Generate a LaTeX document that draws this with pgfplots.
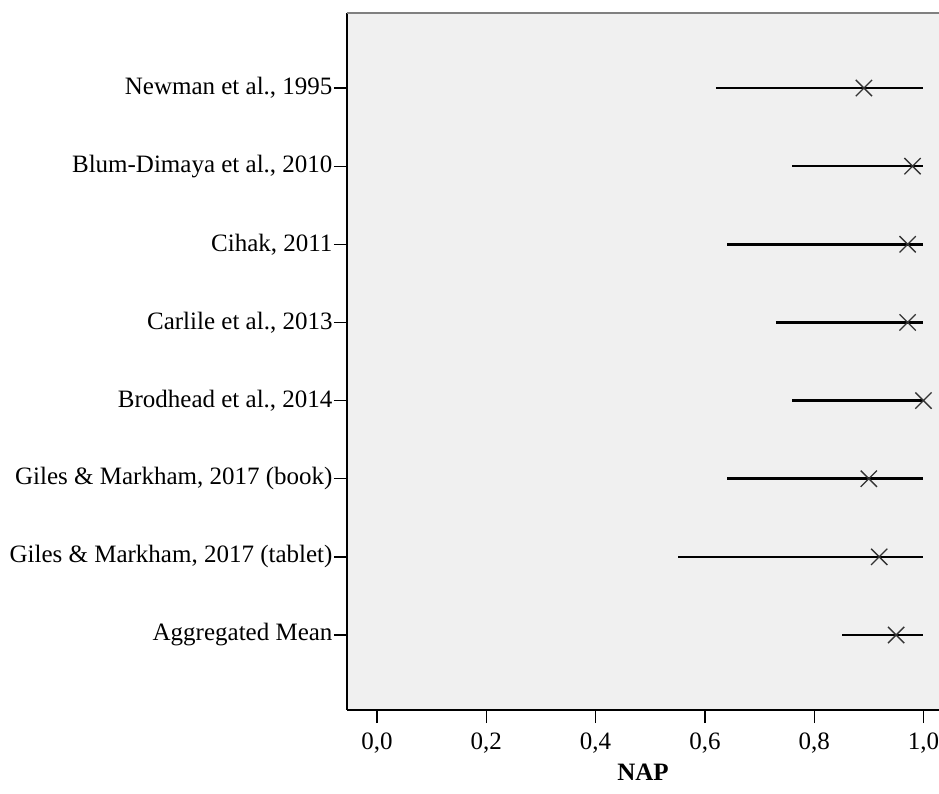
\documentclass[border=0pt]{standalone}
\usepackage{fontspec}
\setmainfont{Liberation Serif}
\usepackage{pgfplots}
\pgfplotsset{compat=1.18}
\definecolor{panel}{RGB}{240,240,240}
\definecolor{frame}{RGB}{128,128,128}
\begin{document}
\begin{tikzpicture}
  \begin{axis}[
      scale only axis,
      width=592pt,
      height=697pt,
      xmin=-0.0549, xmax=1.0284,
      ymin=0.04, ymax=8.96,
      y dir=reverse,
      axis x line*=bottom,
      axis y line*=left,
      axis line style={black, line width=1.3pt, -},
      axis background/.style={fill=panel},
      xtick={0,0.2,0.4,0.6,0.8,1.0},
      ytick={1,...,8},
      yticklabels={{Newman et al., 1995},
        {Blum-Dimaya et al., 2010},
        {Cihak, 2011},
        {Carlile et al., 2013},
        {Brodhead et al., 2014},
        {Giles \& Markham, 2017 (book)},
        {Giles \& Markham, 2017 (tablet)},
        {Aggregated Mean}},
      tick align=outside,
      major tick length=13pt,
      tick style={black, line width=1.3pt},
      x tick label style={
        /pgf/number format/fixed,
        /pgf/number format/fixed zerofill,
        /pgf/number format/precision=1,
        /pgf/number format/use comma,
        /pgf/number format/assume math mode=true,
        yshift=-6pt},
      y tick label style={xshift=2pt},
      tick label style={font=\fontsize{25}{28}\selectfont},
      xlabel={\textbf{NAP}},
      xlabel style={font=\fontsize{25}{28}\selectfont, yshift=-4pt},
      unbounded coords=jump,
      clip=false,
    ]
    % ranges
    \addplot[black, line width=2.6pt, no marks] coordinates {
        (0.620,1) (1.0,1) (nan,nan)
        (0.760,2) (1.0,2) (nan,nan)
        (0.641,3) (1.0,3) (nan,nan)
        (0.730,4) (1.0,4) (nan,nan)
        (0.760,5) (1.0,5) (nan,nan)
        (0.641,6) (1.0,6) (nan,nan)
        (0.551,7) (1.0,7) (nan,nan)
        (0.851,8) (1.0,8)
      };
    % point estimates
    \addplot[only marks, mark=x, mark size=11.5pt, mark options={black!80, line width=1.3pt}] coordinates {
        (0.891,1)
        (0.980,2)
        (0.971,3)
        (0.971,4)
        (1.000,5)
        (0.900,6)
        (0.919,7)
        (0.950,8)
      };
    \draw[frame, line width=1.3pt] (rel axis cs:0,1) -- (rel axis cs:1,1);
    \coordinate (bl) at (rel axis cs:0,0);
  \end{axis}
  \pgfresetboundingbox
  \path ([shift={(-347pt,-83pt)}]bl) rectangle ++(939pt,793pt);
\end{tikzpicture}
\end{document}
